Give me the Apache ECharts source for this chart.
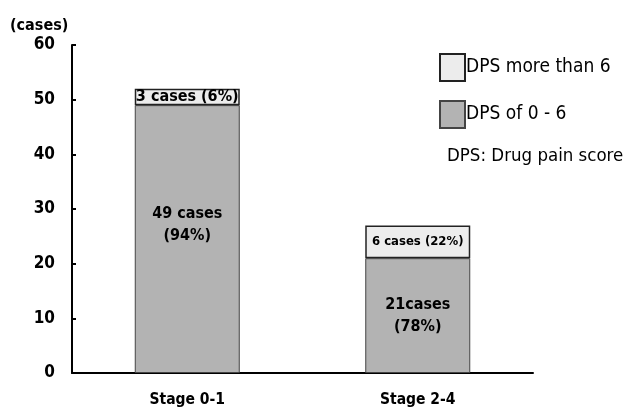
<!DOCTYPE html>
<html>
<head>
<meta charset="utf-8">
<script src="https://cdn.jsdelivr.net/npm/echarts@6/dist/echarts.min.js"></script>
<style>
  html, body { margin: 0; padding: 0; background: #fff; }
  #chart { width: 626px; height: 408px; }
</style>
</head>
<body>
<div id="chart"></div>
<script>
// Patient counts by stage, split by drug pain score (DPS)
const categories = ['Stage 0-1', 'Stage 2-4'];
const lowDps = [49, 21];   // DPS of 0 - 6
const highDps = [3, 6];    // DPS more than 6
const yTicks = [0, 10, 20, 30, 40, 50, 60];
const countGap = [' ', ''];   // spacing between count and "cases" in the lower labels

const FONT = '"Liberation Sans Narrow", "DejaVu Sans Condensed", "Roboto", sans-serif';
const totals = lowDps.map((v, i) => v + highDps[i]);
const pct = (v, i) => Math.round(v / totals[i] * 100);

const chart = echarts.init(document.getElementById('chart'));
chart.setOption({
  animation: false,
  textStyle: { fontFamily: FONT },
  grid: { left: 72, right: 93, top: 45, bottom: 35 },
  legend: {
    orient: 'vertical',
    left: 439,
    top: 53,
    padding: 0,
    itemWidth: 25,
    itemHeight: 27,
    itemGap: 18,
    icon: 'rect',
    data: ['DPS more than 6', 'DPS of 0 - 6'],
    textStyle: { fontFamily: FONT, fontSize: 19, color: '#000', padding: [0, 0, 0, -4] }
  },
  graphic: [
    { type: 'text', left: 10, top: 18,
      style: { text: '(cases)', fontFamily: FONT, fontSize: 16, fontWeight: 'bold', fill: '#000' } },
    { type: 'text', left: 447, top: 147,
      style: { text: 'DPS: Drug pain score', fontFamily: FONT, fontSize: 18.5, fill: '#000' } }
  ],
  xAxis: {
    type: 'category',
    data: categories,
    axisLine: { lineStyle: { color: '#000', width: 2 } },
    axisTick: { inside: true, length: 5, lineStyle: { color: '#000', width: 2 } },
    axisLabel: { color: '#000', fontSize: 15.5, fontWeight: 'bold', margin: 19, fontFamily: FONT },
    splitLine: { show: false }
  },
  yAxis: {
    type: 'value',
    min: yTicks[0],
    max: yTicks[yTicks.length - 1],
    interval: 10,
    axisLine: { show: true, lineStyle: { color: '#000', width: 2 } },
    axisTick: { show: true, inside: true, length: 4, lineStyle: { color: '#000', width: 2 } },
    axisLabel: { color: '#000', fontSize: 17, fontWeight: 'bold', margin: 17, fontFamily: FONT },
    splitLine: { show: false }
  },
  series: [
    {
      name: 'DPS of 0 - 6',
      type: 'bar',
      stack: 'dps',
      barWidth: 105,
      data: lowDps.map((v, i) => ({
        value: v,
        label: { offset: i === 0 ? [0, -14] : [0, 0] }
      })),
      itemStyle: { color: '#b3b3b3', borderColor: '#444', borderWidth: 1 },
      label: {
        show: true,
        position: 'inside',
        fontFamily: FONT,
        fontSize: 16,
        fontWeight: 'bold',
        lineHeight: 22,
        color: '#000',
        formatter: p => `${p.value}${countGap[p.dataIndex]}cases\n(${pct(p.value, p.dataIndex)}%)`
      }
    },
    {
      name: 'DPS more than 6',
      type: 'bar',
      stack: 'dps',
      barWidth: 105,
      data: highDps.map((v, i) => ({
        value: v,
        label: { fontSize: i === 0 ? 16 : 13 }
      })),
      itemStyle: { color: '#ececec', borderColor: '#222', borderWidth: 1.5 },
      label: {
        show: true,
        position: 'inside',
        fontFamily: FONT,
        fontWeight: 'bold',
        color: '#000',
        formatter: p => `${p.value} cases (${pct(p.value, p.dataIndex)}%)`
      }
    }
  ]
});
</script>
</body>
</html>
